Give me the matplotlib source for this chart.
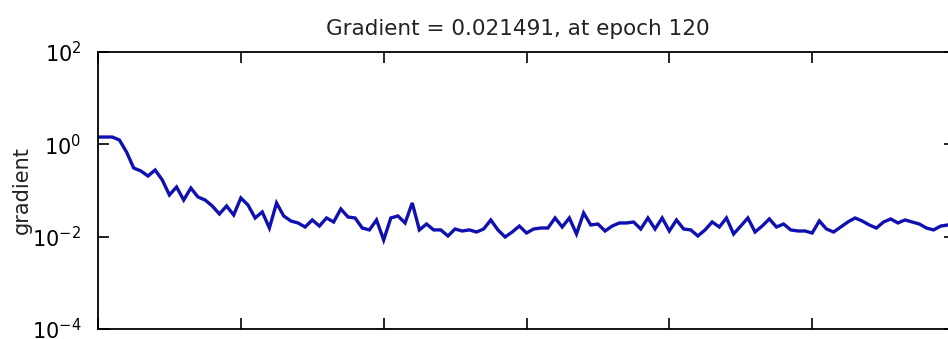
import numpy as np
import matplotlib
matplotlib.use("Agg")
import matplotlib.pyplot as plt
from matplotlib.ticker import FixedLocator, FuncFormatter, NullLocator

plt.rcParams["font.family"] = ["DejaVu Sans"]
plt.rcParams["mathtext.fontset"] = "dejavusans"

# Training gradient per epoch (epoch 0 .. 120)
epochs = np.arange(0, 121)
gradient = [
    1.44, 1.44, 1.44, 1.24, 0.68, 0.307, 0.265, 0.206, 0.278, 0.169,
    0.080, 0.119, 0.0622, 0.113, 0.0723, 0.0622, 0.0462, 0.031, 0.0462, 0.0295,
    0.0689, 0.0485, 0.0254, 0.0343, 0.0154, 0.0537, 0.0281, 0.0219, 0.0198, 0.0162,
    0.0230, 0.0170, 0.0254, 0.0208, 0.0398, 0.0267, 0.0254, 0.0154, 0.0140, 0.0230,
    0.00848, 0.0254, 0.0281, 0.0198, 0.0537, 0.0140, 0.0188, 0.0140, 0.0140, 0.01035,
    0.01466, 0.01327, 0.0140, 0.01262, 0.01466, 0.0230, 0.0140, 0.00985, 0.01262, 0.0170,
    0.0120, 0.01466, 0.0154, 0.0154, 0.0254, 0.0162, 0.0254, 0.01143, 0.0326, 0.0179,
    0.0188, 0.01327, 0.0170, 0.0198, 0.0198, 0.0208, 0.01466, 0.0254, 0.01466, 0.0254,
    0.01327, 0.0230, 0.01466, 0.0140, 0.01035, 0.0140, 0.0208, 0.0162, 0.0254, 0.01143,
    0.0170, 0.0254, 0.01262, 0.0170, 0.0242, 0.0162, 0.0188, 0.0140, 0.01327, 0.01327,
    0.0120, 0.0219, 0.01466, 0.01262, 0.0162, 0.0208, 0.0254, 0.0219, 0.0179, 0.0154,
    0.0208, 0.0242, 0.0198, 0.0230, 0.0208, 0.0188, 0.0154, 0.0140, 0.0170, 0.0179,
    0.021491,
]
final_epoch = 120
final_gradient = 0.021491

x_ticks = [0, 20, 40, 60, 80, 100, 120]
y_ticks = [1e-4, 1e-2, 1e0, 1e2]

fig = plt.figure(figsize=(9.48, 3.39), dpi=100)
ax = fig.add_axes([98 / 948, 10 / 339, 857 / 948, 277 / 339])

ax.plot(epochs, gradient, color="#1010b0", linewidth=2.4, solid_joinstyle="miter")

ax.set_yscale("log")
ax.set_xlim(0, 120)
ax.set_ylim(1e-4, 1e2)
ax.xaxis.set_major_locator(FixedLocator(x_ticks))
ax.yaxis.set_major_locator(FixedLocator(y_ticks))
ax.yaxis.set_minor_locator(NullLocator())
ax.xaxis.set_minor_locator(NullLocator())
ax.yaxis.set_major_formatter(
    FuncFormatter(lambda v, p: r"$\mathregular{10^{%d}}$" % int(round(np.log10(v))))
)

ax.tick_params(axis="both", which="major", direction="in", length=8, width=1.2,
               top=True, right=True, labelbottom=False, labelsize=15, pad=12)
for s in ax.spines.values():
    s.set_linewidth(1.3)
    s.set_color("black")

ax.set_ylabel("gradient", fontsize=15, labelpad=0, color="#222222")
ax.set_title("Gradient = %g, at epoch %d" % (final_gradient, final_epoch),
             fontsize=15.5, pad=12, x=0.49, color="#222222")

fig.savefig("out.png", dpi=100)
